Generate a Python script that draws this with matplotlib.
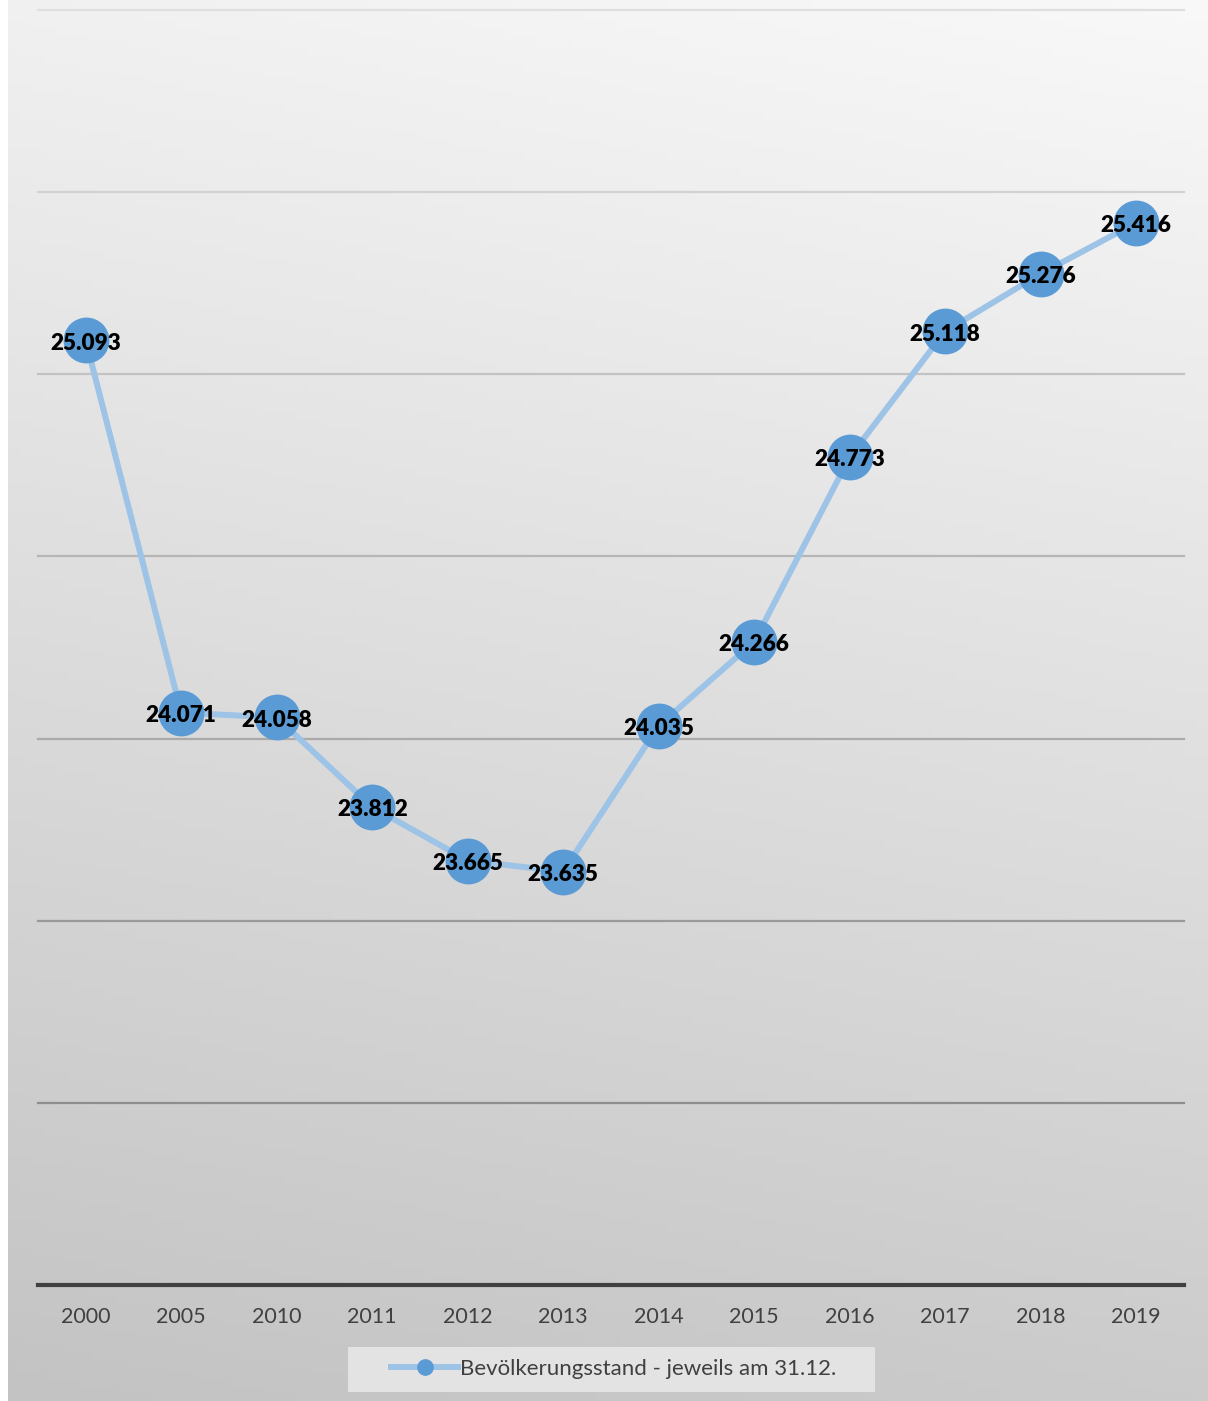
import numpy as np
import matplotlib
matplotlib.use("Agg")
import matplotlib.pyplot as plt
from matplotlib.lines import Line2D
from matplotlib.patches import Rectangle

years = ["2000", "2005", "2010", "2011", "2012", "2013", "2014",
         "2015", "2016", "2017", "2018", "2019"]
population = [25.093, 24.071, 24.058, 23.812, 23.665, 23.635, 24.035,
              24.266, 24.773, 25.118, 25.276, 25.416]
labels = ["25.093", "24.071", "24.058", "23.812", "23.665", "23.635",
          "24.035", "24.266", "24.773", "25.118", "25.276", "25.416"]
series_name = "Bevölkerungsstand - jeweils am 31.12."

plt.rcParams['font.family'] = ['Lato', 'DejaVu Sans']

W, H = 1208, 1401
fig = plt.figure(figsize=(W / 100, H / 100), dpi=100)
fig.patch.set_facecolor("white")

# gradient background
bg = fig.add_axes([8 / W, 0, 1 - 8 / W, 1])
yy, xx = np.mgrid[0:1:200j, 0:1:200j]
t = 0.85 * yy + 0.15 * (1 - xx)
top, bot = 0.975, 0.765
grad = top + (bot - top) * t
bg.imshow(np.dstack([grad, grad, grad]), aspect="auto", extent=[0, 1, 1, 0])
bg.set_axis_off()

ax = fig.add_axes([38 / W, 1 - 1285 / H, (1184 - 38) / W, (1285 - 10) / H])
ax.patch.set_alpha(0)
x = np.arange(len(years))
ax.set_xlim(-0.5, len(years) - 0.5)
ax.set_ylim(22.5, 26.0)

grid_vals = [23.0, 23.5, 24.0, 24.5, 25.0, 25.5, 26.0]
grid_cols = ["#8e8e8e", "#9a9a9a", "#aaaaaa", "#b6b6b6", "#c2c2c2", "#d2d2d2", "#dfdfdf"]
for v, c in zip(grid_vals, grid_cols):
    ax.axhline(v, color=c, lw=1.6, zorder=1, clip_on=False)

ax.plot(x, population, color="#9dc3e6", lw=4.3, marker="o", markersize=32,
        markerfacecolor="#5b9bd5", markeredgecolor="#5b9bd5", zorder=3)
for xi, yi, lab in zip(x, population, labels):
    ax.annotate(lab, (xi, yi), xytext=(0, -2), textcoords="offset points",
                ha="center", va="center", fontsize=16.2,
                fontweight="heavy", color="black", zorder=4)

for s in ["top", "right", "left"]:
    ax.spines[s].set_visible(False)
ax.spines["bottom"].set_color("#404040")
ax.spines["bottom"].set_linewidth(3)
ax.set_yticks([])
ax.set_xticks(x)
ax.set_xticklabels(years, fontsize=15.5, color="#404040")
ax.tick_params(axis="x", length=0, pad=16)

# legend box
fig.patches.append(Rectangle((348 / W, 1 - 1392 / H), (875 - 348) / W, 45 / H,
                             transform=fig.transFigure, facecolor="#e3e3e3",
                             edgecolor="none", zorder=2))
handle = Line2D([], [], color="#9dc3e6", lw=4.3, marker="o", markersize=11,
                markerfacecolor="#5b9bd5", markeredgecolor="#5b9bd5")
leg = fig.legend([handle], [series_name], loc="center",
                 bbox_to_anchor=(614 / W, 1 - 1369 / H), fontsize=16,
                 frameon=False, handlelength=3.0, handletextpad=0.1)
for t_ in leg.get_texts():
    t_.set_color("#404040")

fig.savefig("out.png", dpi=100)
